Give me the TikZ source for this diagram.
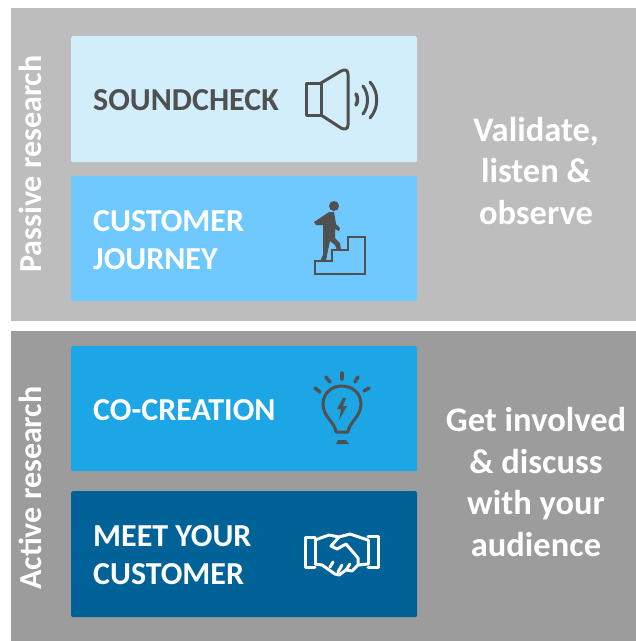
\documentclass[tikz,border=0pt]{standalone}
\usepackage{fontspec}
\setmainfont{Carlito}
\definecolor{panA}{HTML}{BDBDBD}
\definecolor{panB}{HTML}{9C9C9C}
\definecolor{boxA}{HTML}{D3EEFB}
\definecolor{boxB}{HTML}{6FC8FE}
\definecolor{boxC}{HTML}{1CA6E6}
\definecolor{boxD}{HTML}{006296}
\definecolor{ink}{HTML}{505050}
\tikzset{
 panel/.style={fill=#1,draw=none,anchor=north west,inner sep=0pt,minimum width=625pt},
 card/.style={fill=#1,draw=none,rounded corners=1.5pt,anchor=north west,inner sep=0pt,minimum width=346pt,minimum height=126pt},
 cardtext/.style={font=\fontsize{32}{38}\selectfont\bfseries,align=left,anchor=west,inner sep=0pt},
 sidetext/.style={font=\fontsize{34.5}{41.8}\selectfont\bfseries,align=center,text=white,inner sep=0pt},
 vert/.style={font=\fontsize{32}{36}\selectfont\bfseries,text=white,rotate=90,inner sep=0pt},
 icon/.style={draw=#1,line width=3pt,line join=round,line cap=round},
}
\begin{document}
\begin{tikzpicture}[x=1pt,y=-1pt]
\useasboundingbox (0,0) rectangle (636,641);
\node[panel=panA,minimum height=313pt] (p1) at (11,8) {};
\node[panel=panB,minimum height=310pt] (p2) at (11,331) {};
\node[card=boxA] (c1) at (71,36) {};
\node[card=boxB,minimum height=125pt] (c2) at (71,176) {};
\node[card=boxC,minimum height=125pt] (c3) at (71,346) {};
\node[card=boxD] (c4) at (71,491) {};
\node[cardtext,text=ink] (t1) at (93,100) {SOUNDCHECK};
\node[cardtext,text=white] (t2) at (93,240) {CUSTOMER\\JOURNEY};
\node[cardtext,text=white] (t3) at (93,410) {CO-CREATION};
\node[cardtext,text=white] (t4) at (93,555) {MEET YOUR\\CUSTOMER};
\node[sidetext] (s1) at (536,171) {Validate,\\listen \&\\observe};
\node[sidetext] (s2) at (536,482) {Get involved\\\& discuss\\with your\\audience};
\node[vert] (v1) at (30,164) {Passive research};
\node[vert] (v2) at (30,488) {Active research};
% speaker
\draw[icon=ink] (306,83) rectangle (321,115);
\draw[icon=ink] (321,83) -- (341,71) .. controls (345,69) and (348,70) .. (348,74) -- (348,125) .. controls (348,129) and (345,130) .. (341,128) -- (321,115);
\draw[icon=ink,line width=3.5pt] (356,94) .. controls (358,97) and (358,102) .. (356,105);
\draw[icon=ink] (363,86) .. controls (369,94) and (369,106) .. (363,114);
\draw[icon=ink] (370,82) .. controls (379,92) and (379,108) .. (370,118);
% stairs and walker
\draw[draw=ink,line width=1.6pt,line join=miter] (315,274) -- (315,261) -- (332,261) -- (332,250) -- (348,250) -- (348,237) -- (365,237) -- (365,274) -- cycle;
\fill[ink] (334,206) circle (5pt);
\fill[ink] (329,212) -- (334,212) -- (336,224) -- (340,228) -- (339,231) -- (335,229) -- (335,238) -- (340,243) -- (341,250) -- (337,250) -- (335,245) -- (330,241) -- (328,250) -- (326,261) -- (320,261) -- (323,255) -- (323,225) -- (316,225) -- (314,222) -- cycle;
% bulb
\draw[icon=ink] (336,432) .. controls (335,422) and (323,417) .. (323,404) .. controls (323,393) and (332,386) .. (342,386) .. controls (352,386) and (361,393) .. (361,404) .. controls (361,417) and (349,422) .. (348,432) -- cycle;
\fill[ink] (336,444) -- (338,440) -- (346,440) -- (349,444) -- cycle;
\fill[ink] (343,398) -- (337,409) -- (341,409) -- (339,420) -- (347,406) -- (343,406) -- (346,398) -- cycle;
\foreach \a/\b/\c/\d in {342/373/342/379,326/377/330/382,358/377/355/382,315/388/320/392,369/388/364/391}
  \draw[icon=ink,line width=3.5pt] (\a,\b) -- (\c,\d);
% handshake
\begin{scope}[line width=3pt,draw=white,line join=round,line cap=round]
\draw (315,537) -- (305,537) -- (305,567) -- (315,567);
\draw (368,536) -- (378,536) -- (378,567) -- (368,567);
\draw (315,540) -- (329,535) -- (339,537) -- (350,534) -- (368,540);
\draw (315,564) -- (322,565) -- (335,574) -- (339,575) -- (346,570) -- (352,571) -- (358,565) -- (368,564);
\draw (339,537) -- (331,546) -- (337,549) -- (346,544) -- (358,558) -- (358,565);
\draw (330,567) -- (333,562);
\draw (338,572) -- (342,565);
\draw (346,570) -- (350,564);
\draw (315,540) -- (315,564);
\draw (368,540) -- (368,564);
\end{scope}
\end{tikzpicture}
\end{document}
